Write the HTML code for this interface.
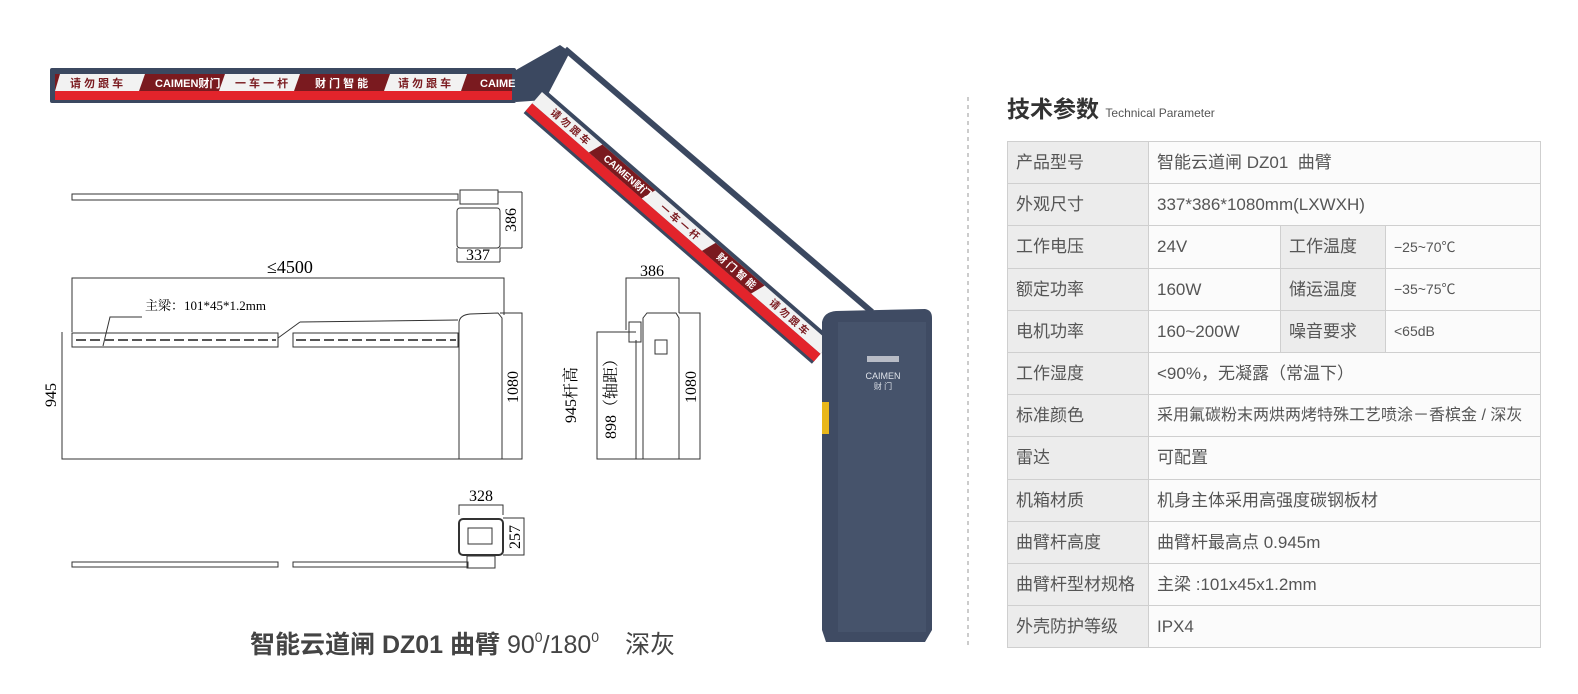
<!DOCTYPE html>
<html><head><meta charset="utf-8"><style>
html,body{margin:0;padding:0;background:#fff;}
body{width:1578px;height:694px;position:relative;overflow:hidden;font-family:"Liberation Sans","Noto Sans CJK SC",sans-serif;}
.t{position:absolute;left:1007px;top:141px;border-collapse:collapse;font-size:17px;color:#555;}
.t td{border:1px solid #cfcfcf;height:41.2px;padding:0 0 0 8px;background:#fbfbfb;white-space:nowrap;line-height:1;vertical-align:middle;}
.t td.l{background:#ececec;}
.s{font-size:14px;}
</style></head><body>
<svg width="1578" height="694" style="position:absolute;left:0;top:0" font-family="Liberation Serif,Noto Serif CJK SC,serif">
<line x1="968" y1="97" x2="968" y2="645" stroke="#999" stroke-dasharray="4,4"/>
<rect x="50" y="68" width="466" height="35" fill="#3b4860" rx="2"/>
<rect x="55" y="74" width="457" height="17" fill="#7a1a1f"/>
<polygon points="60,74 145,74 139,91 55,91" fill="#f2f2f2"/>
<polygon points="225,74 300,74 294,91 219,91" fill="#f2f2f2"/>
<polygon points="390,74 467,74 461,91 384,91" fill="#f2f2f2"/>
<rect x="55" y="91" width="457" height="9" fill="#e3242b"/>
<g font-family="Liberation Sans,Noto Sans CJK SC,sans-serif" font-size="11" font-weight="bold">
<text x="70" y="87" fill="#7a1a1f">请 勿 跟 车</text>
<text x="155" y="87" fill="#fff">CAIMEN财门</text>
<text x="235" y="87" fill="#7a1a1f">一 车 一 杆</text>
<text x="315" y="87" fill="#fff">财 门 智 能</text>
<text x="398" y="87" fill="#7a1a1f">请 勿 跟 车</text>
<text x="480" y="87" fill="#fff">CAIME</text>
</g>
<polygon points="516,70 560,45 570,52 545,100 516,102" fill="#3b4860"/>
<line x1="565" y1="49" x2="872" y2="312" stroke="#3b4860" stroke-width="6"/>
<g transform="translate(542,92) rotate(41)">
<rect x="0" y="-4" width="382" height="32" fill="#3b4860"/>
<rect x="0" y="0" width="382" height="15" fill="#f2f2f2"/>
<polygon points="80,0 150,0 145,15 75,15" fill="#7a1a1f"/>
<polygon points="230,0 295,0 290,15 225,15" fill="#7a1a1f"/>
<rect x="0" y="15" width="382" height="10" fill="#e3242b"/>
<g font-family="Liberation Sans,Noto Sans CJK SC,sans-serif" font-size="10" font-weight="bold">
<text x="20" y="11" fill="#7a1a1f">请 勿 跟 车</text>
<text x="90" y="11" fill="#fff">CAIMEN财门</text>
<text x="165" y="11" fill="#7a1a1f">一 车 一 杆</text>
<text x="240" y="11" fill="#fff">财 门 智 能</text>
<text x="310" y="11" fill="#7a1a1f">请 勿 跟 车</text>
</g>
</g>
<path d="M822,322 Q824,312 836,311 L925,309 Q932,310 932,318 L932,630 L925,642 L826,642 L822,630 Z" fill="#3f4b63"/>
<rect x="838" y="322" width="88" height="310" fill="#46536b"/>
<rect x="867" y="356" width="32" height="6" fill="#b8bcc6"/>
<text x="883" y="379" font-family="Liberation Sans,sans-serif" font-size="9" fill="#dfe3ea" text-anchor="middle">CAIMEN</text>
<text x="883" y="389" font-family="Liberation Sans,Noto Sans CJK SC,sans-serif" font-size="8" fill="#dfe3ea" text-anchor="middle">财 门</text>
<rect x="822" y="402" width="7" height="32" fill="#e9b71a"/>
<g fill="none" stroke="#333" stroke-width="1">
<rect x="72" y="194" width="386" height="6"/>
<rect x="460" y="190" width="38" height="14"/>
<rect x="457" y="208" width="43" height="40" rx="3"/>
<path d="M498,192 H522 M522,192 V248 M500,248 H522 M457,248 V262 M500,248 V262 M457,262 H500"/>
</g>
<text x="516" y="220" font-size="16" transform="rotate(-90 516 220)" text-anchor="middle">386</text>
<text x="478" y="260" font-size="16" text-anchor="middle">337</text>
<g fill="none" stroke="#333" stroke-width="1">
<path d="M72,332 V278 H504 V315 M62,332 V459 H504"/>
<rect x="72" y="333" width="206" height="14"/>
<rect x="293" y="333" width="165" height="14"/>
<path d="M278,338 L300,322 M300,322 L458,320"/>
<path d="M459,459 V322 Q460,315 470,314 L498,313 L502,318 V459"/>
<path d="M500,313 H522 V459 H502"/>
<path d="M103,346 L110,317 H142"/>
</g>
<g stroke="#555" stroke-width="2">
<line x1="76" y1="340" x2="276" y2="340" stroke-dasharray="10,4"/>
<line x1="296" y1="340" x2="456" y2="340" stroke-dasharray="10,4"/>
</g>
<text x="290" y="273" font-size="18" text-anchor="middle">≤4500</text>
<text x="145" y="310" font-size="13">主梁：101*45*1.2mm</text>
<text x="56" y="395" font-size="16" transform="rotate(-90 56 395)" text-anchor="middle">945</text>
<text x="518" y="387" font-size="16" transform="rotate(-90 518 387)" text-anchor="middle">1080</text>
<g fill="none" stroke="#333" stroke-width="1">
<path d="M626,330 V278 H679 V313 M679,313 H700 V459 H597 V332 H636 M636,340 V459"/>
<path d="M643,459 V318 L647,313 H676 L679,318 V459 Z"/>
<rect x="629" y="322" width="12" height="20"/>
<rect x="655" y="340" width="12" height="14"/>
</g>
<text x="652" y="276" font-size="16" text-anchor="middle">386</text>
<text x="576" y="395" font-size="16" transform="rotate(-90 576 395)" text-anchor="middle">945杆高</text>
<text x="616" y="395" font-size="16" transform="rotate(-90 616 395)" text-anchor="middle">898（轴距）</text>
<text x="696" y="387" font-size="16" transform="rotate(-90 696 387)" text-anchor="middle">1080</text>
<g fill="none" stroke="#333" stroke-width="1">
<rect x="72" y="562" width="206" height="5"/>
<rect x="293" y="562" width="175" height="5"/>
<rect x="459" y="519" width="44" height="36" rx="4" stroke-width="2"/>
<rect x="468" y="528" width="24" height="16"/>
<rect x="467" y="556" width="28" height="12"/>
<path d="M459,515 V505 H503 V515 M503,518 H524 V555 H503"/>
</g>
<text x="481" y="501" font-size="16" text-anchor="middle">328</text>
<text x="520" y="537" font-size="16" transform="rotate(-90 520 537)" text-anchor="middle">257</text>
<text x="250" y="653" font-family="Liberation Sans,Noto Sans CJK SC,sans-serif" font-size="25" fill="#444"><tspan font-weight="bold">智能云道闸 DZ01 曲臂</tspan> 90<tspan font-size="14" dy="-11">0</tspan><tspan dy="11">/180</tspan><tspan font-size="14" dy="-11">0</tspan><tspan dy="11" dx="26">深灰</tspan></text>
</svg>
<div style="position:absolute;left:1007px;top:90px;font-size:23px;font-weight:bold;color:#333;font-family:'Liberation Sans','Noto Sans CJK SC',sans-serif;">技术参数 <span style="font-size:12px;font-weight:normal;color:#555;">Technical Parameter</span></div>
<table class="t">
<colgroup><col style="width:141px"><col style="width:132px"><col style="width:105px"><col style="width:155px"></colgroup>
<tr><td class="l">产品型号</td><td colspan="3">智能云道闸 DZ01&nbsp; 曲臂</td></tr>
<tr><td class="l">外观尺寸</td><td colspan="3">337*386*1080mm(LXWXH)</td></tr>
<tr><td class="l">工作电压</td><td>24V</td><td class="l">工作温度</td><td class="s">−25~70℃</td></tr>
<tr><td class="l">额定功率</td><td>160W</td><td class="l">储运温度</td><td class="s">−35~75℃</td></tr>
<tr><td class="l">电机功率</td><td>160~200W</td><td class="l">噪音要求</td><td class="s">&lt;65dB</td></tr>
<tr><td class="l">工作湿度</td><td colspan="3">&lt;90%，无凝露（常温下）</td></tr>
<tr><td class="l">标准颜色</td><td colspan="3" style="font-size:16px">采用氟碳粉末两烘两烤特殊工艺喷涂－香槟金 / 深灰</td></tr>
<tr><td class="l">雷达</td><td colspan="3">可配置</td></tr>
<tr><td class="l">机箱材质</td><td colspan="3">机身主体采用高强度碳钢板材</td></tr>
<tr><td class="l">曲臂杆高度</td><td colspan="3">曲臂杆最高点 0.945m</td></tr>
<tr><td class="l">曲臂杆型材规格</td><td colspan="3">主梁 :101x45x1.2mm</td></tr>
<tr><td class="l">外壳防护等级</td><td colspan="3">IPX4</td></tr>
</table>
</body></html>
